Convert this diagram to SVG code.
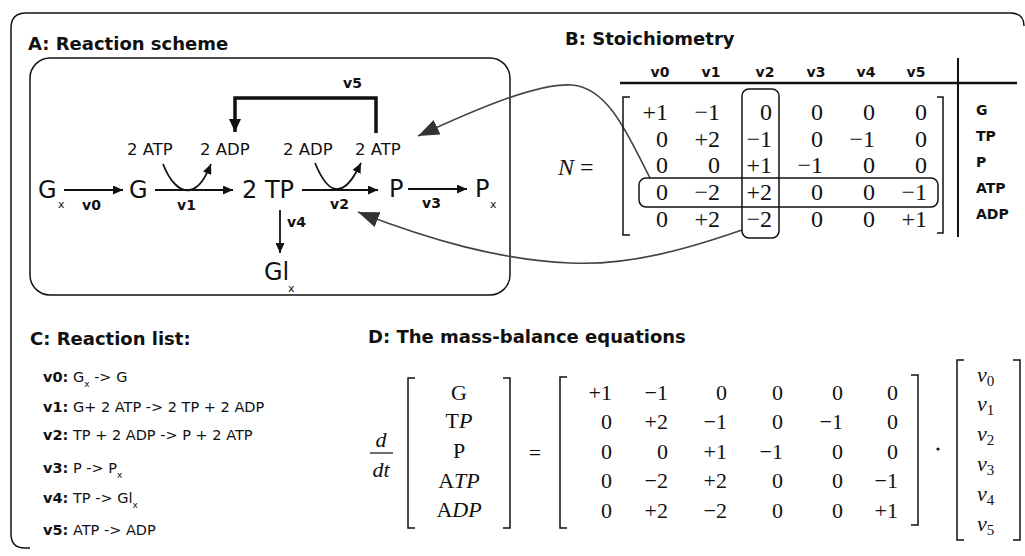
<svg xmlns="http://www.w3.org/2000/svg" width="1025" height="556" viewBox="0 0 1025 556">
<style>
.t{font-family:"DejaVu Sans",sans-serif;font-weight:bold;font-size:18px;fill:#111}
.n{font-family:"DejaVu Sans",sans-serif;font-size:24px;fill:#111}
.s{font-family:"DejaVu Sans",sans-serif;font-size:11px;fill:#111}
.c{font-family:"DejaVu Sans",sans-serif;font-size:16.5px;fill:#111}
.r{font-family:"DejaVu Sans",sans-serif;font-size:14px;font-weight:bold;fill:#111}
.m{font-family:"Liberation Serif","DejaVu Serif",serif;font-size:24px;fill:#111}
.md{font-family:"Liberation Serif","DejaVu Serif",serif;font-size:22px;fill:#111}
.l{font-family:"DejaVu Sans",sans-serif;font-size:14.5px;fill:#111}
.ln{stroke:#111;fill:none;stroke-width:1.5}
.ar{stroke:#111;fill:none;stroke-width:1.8}
.gc{stroke:#444;fill:none;stroke-width:1.6}
.end{text-anchor:end}
.mid{text-anchor:middle}
</style>
<defs>
<marker id="ah" markerUnits="userSpaceOnUse" markerWidth="11" markerHeight="9" refX="10" refY="4.5" orient="auto"><path d="M0,0 L10,4.5 L0,9 z" fill="#111"/></marker>
<marker id="ahb" markerUnits="userSpaceOnUse" markerWidth="14" markerHeight="12" refX="13" refY="6" orient="auto"><path d="M0,0 L13,6 L0,12 z" fill="#111"/></marker>
<marker id="ahg" markerUnits="userSpaceOnUse" markerWidth="22" markerHeight="16" refX="21" refY="8" orient="auto"><path d="M0,0 L21,8 L0,16 z" fill="#333"/></marker>
</defs>
<rect width="1025" height="556" fill="#fff"/>
<path class="ln" d="M 30,548 H 25 Q 11,548 11,534 V 28 Q 11,13 26,13 H 1010 Q 1024,13 1024,26" stroke-width="2"/>

<g id="panelA">
<text class="t" x="28" y="50">A: Reaction scheme</text>
<rect class="ln" x="30" y="58" width="480" height="237" rx="20" stroke-width="1.8"/>
</g>

<g id="node-Gx"><text class="n" x="38" y="198">G</text><text class="s" x="58" y="208">x</text></g>
<g id="node-G"><text class="n" x="129" y="198">G</text></g>
<g id="node-TP"><text class="n" x="242" y="198">2 TP</text></g>
<g id="node-P"><text class="n" x="389" y="197">P</text></g>
<g id="node-Px"><text class="n" x="475" y="197">P</text><text class="s" x="490" y="208">x</text></g>
<g id="node-Glx"><text class="n" x="264" y="280">Gl</text><text class="s" x="288" y="292">x</text></g>
<g id="node-ATP1"><text class="c" x="127" y="155">2 ATP</text></g>
<g id="node-ADP1"><text class="c" x="200" y="155">2 ADP</text></g>
<g id="node-ADP2"><text class="c" x="283" y="155">2 ADP</text></g>
<g id="node-ATP2"><text class="c" x="355" y="155">2 ATP</text></g>

<g id="connectors">
<line class="ar" x1="64" y1="190" x2="123" y2="190" marker-end="url(#ah)"/>
<text class="r" x="82" y="210">v0</text>
<line class="ar" x1="155" y1="190" x2="233" y2="190" marker-end="url(#ah)"/>
<text class="r" x="177" y="210">v1</text>
<path class="ar" d="M 163,164 C 170,182 180,192 190,190 C 200,188 206,176 211,164" marker-end="url(#ah)"/>
<line class="ar" x1="302" y1="190" x2="378" y2="190" marker-end="url(#ah)"/>
<text class="r" x="330" y="209">v2</text>
<path class="ar" d="M 315,163 C 322,180 330,190 338,189 C 348,188 355,175 361,163" marker-end="url(#ah)"/>
<line class="ar" x1="408" y1="189" x2="467" y2="189" marker-end="url(#ah)"/>
<text class="r" x="422" y="208">v3</text>
<line class="ar" x1="280" y1="210" x2="280" y2="253" marker-end="url(#ah)"/>
<text class="r" x="287" y="227">v4</text>
<path d="M 376,133 V 98 H 235 V 132" fill="none" stroke="#111" stroke-width="3.5" marker-end="url(#ahb)"/>
<text class="r" x="343" y="88">v5</text>
<path class="gc" d="M 650,178 C 630,140 610,88 572,85 C 535,83 470,112 418,136" marker-end="url(#ahg)"/>
<path class="gc" d="M 742,230 C 690,248 630,266 570,263 C 500,260 430,240 358,212" marker-end="url(#ahg)"/>
</g>

<g id="panelB">
<text class="t" x="565" y="45">B: Stoichiometry</text>
<g class="r mid">
<text x="660" y="77">v0</text><text x="711" y="77">v1</text><text x="765" y="77">v2</text>
<text x="816" y="77">v3</text><text x="866" y="77">v4</text><text x="916" y="77">v5</text>
</g>
<line x1="620" y1="83" x2="1017" y2="83" stroke="#111" stroke-width="2.5"/>
<line x1="958" y1="58" x2="958" y2="237" stroke="#111" stroke-width="2"/>
<path class="ln" d="M 630,97 H 623 V 235 H 630"/>
<path class="ln" d="M 937,97 H 943 V 233 H 937"/>
<text class="m" x="558" y="175"><tspan font-style="italic">N</tspan> =</text>
<g class="m end">
<text x="668" y="120">+1</text><text x="720" y="120">−1</text><text x="772" y="120">0</text><text x="823" y="120">0</text><text x="875" y="120">0</text><text x="927" y="120">0</text>
<text x="668" y="147">0</text><text x="720" y="147">+2</text><text x="772" y="147">−1</text><text x="823" y="147">0</text><text x="875" y="147">−1</text><text x="927" y="147">0</text>
<text x="668" y="173">0</text><text x="720" y="173">0</text><text x="772" y="173">+1</text><text x="823" y="173">−1</text><text x="875" y="173">0</text><text x="927" y="173">0</text>
<text x="668" y="200">0</text><text x="720" y="200">−2</text><text x="772" y="200">+2</text><text x="823" y="200">0</text><text x="875" y="200">0</text><text x="927" y="200">−1</text>
<text x="668" y="227">0</text><text x="720" y="227">+2</text><text x="772" y="227">−2</text><text x="823" y="227">0</text><text x="875" y="227">0</text><text x="927" y="227">+1</text>
</g>
<rect class="ln" x="742" y="89" width="37" height="149" rx="7"/>
<rect class="ln" x="639" y="178" width="299" height="29" rx="7"/>
<g class="r">
<text x="976" y="115">G</text><text x="976" y="141">TP</text><text x="976" y="167">P</text><text x="976" y="193">ATP</text><text x="976" y="219">ADP</text>
</g>
</g>

<g id="panelC">
<text class="t" x="30" y="345">C: Reaction list:</text>
<text class="l" x="43" y="382"><tspan font-weight="bold">v0:</tspan> G<tspan font-size="9" dy="5">x</tspan><tspan dy="-5"> -&gt; G</tspan></text>
<text class="l" x="43" y="412"><tspan font-weight="bold">v1:</tspan> G+ 2 ATP -&gt; 2 TP + 2 ADP</text>
<text class="l" x="43" y="440"><tspan font-weight="bold">v2:</tspan> TP + 2 ADP -&gt; P + 2 ATP</text>
<text class="l" x="43" y="473"><tspan font-weight="bold">v3:</tspan> P -&gt; P<tspan font-size="9" dy="5">x</tspan></text>
<text class="l" x="43" y="503"><tspan font-weight="bold">v4:</tspan> TP -&gt; Gl<tspan font-size="9" dy="5">x</tspan></text>
<text class="l" x="43" y="535"><tspan font-weight="bold">v5:</tspan> ATP -&gt; ADP</text>
</g>

<g id="panelD">
<text class="t" x="368" y="343">D: The mass-balance equations</text>
<text class="md mid" x="381" y="447" font-style="italic">d</text>
<line x1="370" y1="453" x2="393" y2="453" stroke="#111" stroke-width="1.2"/>
<text class="md mid" x="381" y="477" font-style="italic">dt</text>
<path class="ln" d="M 415,378 H 408 V 528 H 415"/>
<path class="ln" d="M 503,378 H 510 V 528 H 503"/>
<g class="md mid">
<text x="459" y="400">G</text>
<text x="459" y="428">T<tspan font-style="italic">P</tspan></text>
<text x="459" y="458">P</text>
<text x="459" y="488">A<tspan font-style="italic">TP</tspan></text>
<text x="459" y="517">A<tspan font-style="italic">DP</tspan></text>
</g>
<text class="md mid" x="535" y="460">=</text>
<path class="ln" d="M 567,377 H 560 V 528 H 567"/>
<path class="ln" d="M 911,375 H 918 V 525 H 911"/>
<g class="md end">
<text x="612" y="400">+1</text><text x="668" y="400">−1</text><text x="727" y="400">0</text><text x="783" y="400">0</text><text x="843" y="400">0</text><text x="898" y="400">0</text>
<text x="612" y="429">0</text><text x="668" y="429">+2</text><text x="727" y="429">−1</text><text x="783" y="429">0</text><text x="843" y="429">−1</text><text x="898" y="429">0</text>
<text x="612" y="459">0</text><text x="668" y="459">0</text><text x="727" y="459">+1</text><text x="783" y="459">−1</text><text x="843" y="459">0</text><text x="898" y="459">0</text>
<text x="612" y="488">0</text><text x="668" y="488">−2</text><text x="727" y="488">+2</text><text x="783" y="488">0</text><text x="843" y="488">0</text><text x="898" y="488">−1</text>
<text x="612" y="518">0</text><text x="668" y="518">+2</text><text x="727" y="518">−2</text><text x="783" y="518">0</text><text x="843" y="518">0</text><text x="898" y="518">+1</text>
</g>
<circle cx="938" cy="449" r="1.6" fill="#111"/>
<path class="ln" d="M 964,360 H 957 V 540 H 964"/>
<path class="ln" d="M 1013,360 H 1020 V 540 H 1013"/>
<g class="md">
<text x="977" y="382"><tspan font-style="italic">ν</tspan><tspan font-size="15" dy="4">0</tspan></text>
<text x="977" y="411"><tspan font-style="italic">ν</tspan><tspan font-size="15" dy="4">1</tspan></text>
<text x="977" y="441"><tspan font-style="italic">ν</tspan><tspan font-size="15" dy="4">2</tspan></text>
<text x="977" y="471"><tspan font-style="italic">ν</tspan><tspan font-size="15" dy="4">3</tspan></text>
<text x="977" y="501"><tspan font-style="italic">ν</tspan><tspan font-size="15" dy="4">4</tspan></text>
<text x="977" y="531"><tspan font-style="italic">ν</tspan><tspan font-size="15" dy="4">5</tspan></text>
</g>
</g>
</svg>
